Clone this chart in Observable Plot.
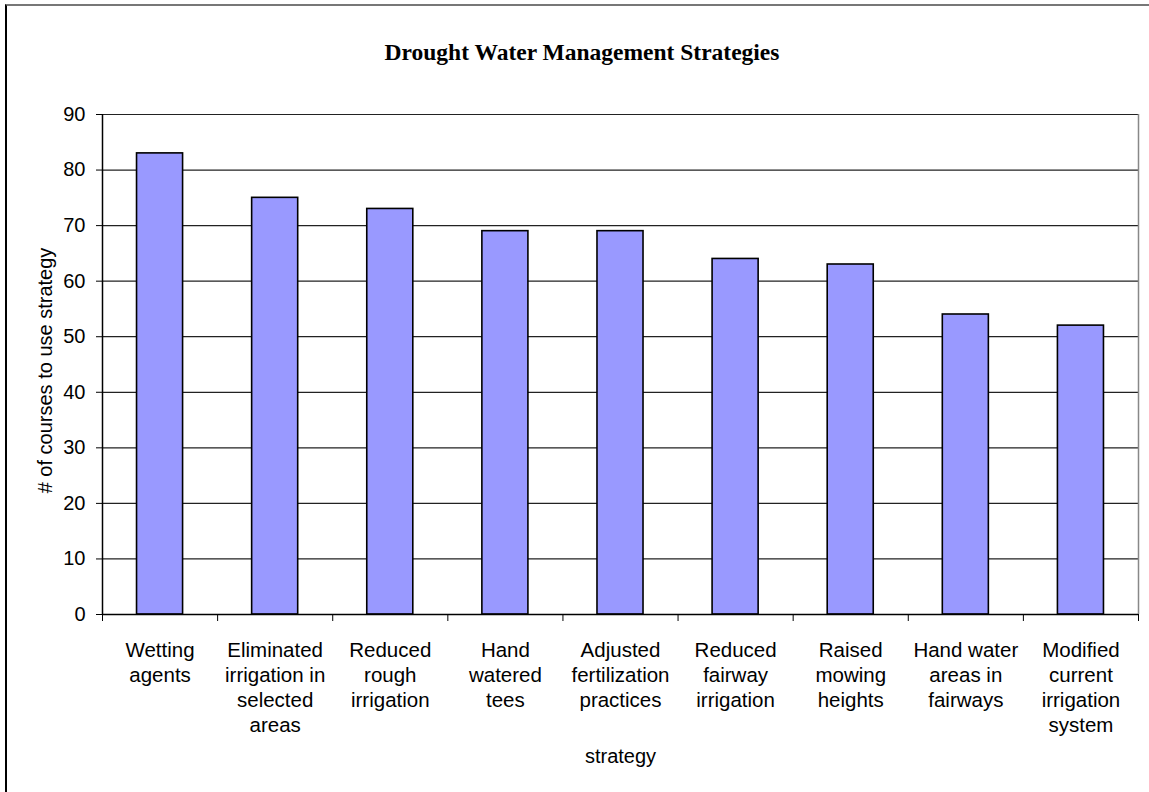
<!DOCTYPE html>
<html><head><meta charset="utf-8">
<script src="https://cdn.jsdelivr.net/npm/d3@7"></script>
<script src="https://cdn.jsdelivr.net/npm/@observablehq/plot@0.6"></script>
<style>
body{margin:0;background:#fff;}
#wrap{position:relative;width:1149px;height:792px;overflow:hidden;background:#fff;font-family:"Liberation Sans",Arial,sans-serif;}
#frame{position:absolute;left:5px;top:4px;width:1300px;height:1000px;border-top:2px solid #777;border-left:2px solid #000;pointer-events:none;}
#title{height:80px;box-sizing:border-box;padding-top:39px;padding-left:15px;text-align:center;font-family:"Liberation Serif","Times New Roman",serif;font-weight:bold;font-size:23.5px;color:#000;}
svg{display:block;}
</style>
</head><body>
<div id="wrap"><div id="frame"></div><div id="title">Drought Water Management Strategies</div><div id="chart"></div></div>
<script>
const strategies = ["Wetting agents","Eliminated irrigation in selected areas","Reduced rough irrigation","Hand watered tees","Adjusted fertilization practices","Reduced fairway irrigation","Raised mowing heights","Hand water areas in fairways","Modified current irrigation system"];
const tickLabels = ["Wetting\nagents","Eliminated\nirrigation in\nselected\nareas","Reduced\nrough\nirrigation","Hand\nwatered\ntees","Adjusted\nfertilization\npractices","Reduced\nfairway\nirrigation","Raised\nmowing\nheights","Hand water\nareas in\nfairways","Modified\ncurrent\nirrigation\nsystem"];
const courses = [83, 75, 73, 69, 69, 64, 63, 54, 52];
const yTicks = [0,10,20,30,40,50,60,70,80,90];
const title = "Drought Water Management Strategies";
const yTitle = "# of courses to use strategy";
const xTitle = "strategy";

const data = strategies.map((s, i) => ({i, s, v: courses[i]}));
const boundaries = d3.range(strategies.length + 1);
const centers = strategies.map((s, i) => i + 0.5);

const chart = Plot.plot({
  width: 1149, height: 712,
  marginLeft: 102, marginRight: 11, marginTop: 34, marginBottom: 178,
  style: {fontFamily: '"Liberation Sans", Arial, sans-serif', fontSize: "20px", color: "#000", background: "transparent"},
  x: {domain: [0, strategies.length]},
  y: {domain: [0, 90]},
  marks: [
    Plot.ruleY(yTicks.filter(d => d > 0), {stroke: "#222", strokeWidth: 1.2}),
    Plot.ruleX([strategies.length], {stroke: "#888", strokeWidth: 1.5}),
    Plot.rectY(data, {x1: d => d.i + 0.3, x2: d => d.i + 0.7, y: "v", fill: "#9999FF", stroke: "#000", strokeWidth: 1.6}),
    Plot.ruleX([0], {stroke: "#000", strokeWidth: 1.5}),
    Plot.ruleY([0], {stroke: "#000", strokeWidth: 1.5}),
    Plot.axisY({ticks: yTicks, tickSize: 6, tickPadding: 11, fontSize: 20, stroke: "#000", label: null, tickFormat: d => String(d)}),
    Plot.axisX({ticks: boundaries, tickSize: 7, stroke: "#000", tickFormat: () => "", label: null}),
    Plot.axisX({ticks: centers, tickSize: 0, tickPadding: 25, fontSize: 20.5, lineHeight: 1.22, label: null, tickFormat: d => tickLabels[Math.floor(d)]}),
    Plot.text([yTitle], {text: d => d, frameAnchor: "left", rotate: -90, dx: -57, dy: 6, fontSize: 20, textAnchor: "middle", fill: "#000"}),
    Plot.text([xTitle], {text: d => d, frameAnchor: "bottom", dy: 148, lineAnchor: "bottom", fontSize: 20, fill: "#000"})
  ]
});
document.getElementById("chart").appendChild(chart);
</script>
</body></html>
